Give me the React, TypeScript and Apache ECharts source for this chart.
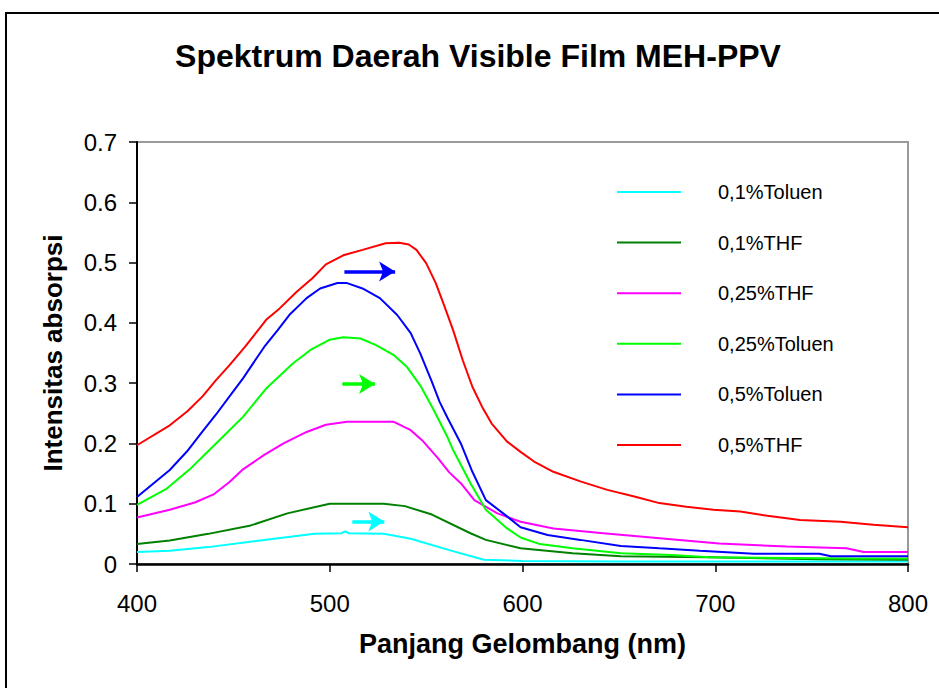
import React, { useEffect, useRef } from "react";
import * as echarts from "echarts";

const FONT = '"Liberation Sans", Arial, Helvetica, sans-serif';

const chartTitle = "Spektrum Daerah Visible Film MEH-PPV";
const xAxisTitle = "Panjang Gelombang (nm)";
const yAxisTitle = "Intensitas absorpsi";

const seriesNames = ["0,1%Toluen", "0,1%THF", "0,25%THF", "0,25%Toluen", "0,5%Toluen", "0,5%THF"];
const seriesColors = ["#00FFFF", "#008000", "#FF00FF", "#00FF00", "#0000FF", "#FF0000"];

const toluen01: number[][] = [
  [400, 0.020], [417, 0.022], [437, 0.028], [464, 0.039], [492, 0.050], [506, 0.051], [508, 0.054],
  [510, 0.051], [528, 0.050], [542, 0.042], [562, 0.023], [580, 0.007], [600, 0.005], [650, 0.004],
  [700, 0.004], [800, 0.004],
];
const thf01: number[][] = [
  [400, 0.033], [417, 0.039], [437, 0.050], [459, 0.064], [478, 0.084], [500, 0.100], [528, 0.100],
  [539, 0.096], [553, 0.082], [573, 0.051], [581, 0.040], [599, 0.026], [626, 0.018], [651, 0.013],
  [696, 0.011], [754, 0.008], [800, 0.007],
];
const thf025: number[][] = [
  [400, 0.077], [417, 0.090], [430, 0.102], [440, 0.116], [448, 0.136], [455, 0.157], [466, 0.181],
  [476, 0.200], [488, 0.219], [498, 0.231], [509, 0.236], [533, 0.236], [542, 0.222], [548, 0.205],
  [556, 0.176], [562, 0.152], [568, 0.134], [575, 0.106], [587, 0.084], [599, 0.070], [616, 0.059],
  [642, 0.051], [677, 0.041], [702, 0.034], [737, 0.029], [768, 0.026], [777, 0.020], [800, 0.020],
];
const toluen025: number[][] = [
  [400, 0.098], [415, 0.124], [428, 0.159], [441, 0.200], [455, 0.244], [467, 0.291], [481, 0.333],
  [490, 0.355], [500, 0.372], [507, 0.376], [516, 0.374], [524, 0.363], [533, 0.347], [540, 0.327],
  [547, 0.296], [554, 0.255], [561, 0.211], [564, 0.189], [573, 0.134], [581, 0.090], [592, 0.059],
  [599, 0.044], [609, 0.033], [626, 0.026], [651, 0.018], [677, 0.015], [697, 0.011], [772, 0.009],
  [800, 0.009],
];
const toluen05: number[][] = [
  [400, 0.111], [417, 0.156], [426, 0.187], [433, 0.216], [441, 0.248], [448, 0.278], [455, 0.308],
  [466, 0.360], [473, 0.388], [479, 0.413], [488, 0.441], [495, 0.457], [504, 0.466], [509, 0.466],
  [517, 0.457], [526, 0.441], [535, 0.413], [542, 0.383], [547, 0.349], [553, 0.302], [557, 0.269],
  [561, 0.243], [568, 0.200], [574, 0.153], [581, 0.106], [592, 0.079], [599, 0.061], [613, 0.048],
  [630, 0.040], [651, 0.030], [671, 0.026], [692, 0.022], [720, 0.017], [754, 0.017], [760, 0.013],
  [800, 0.013],
];
const thf05: number[][] = [
  [400, 0.197], [417, 0.230], [426, 0.253], [434, 0.278], [441, 0.305], [448, 0.330], [456, 0.360],
  [467, 0.405], [474, 0.424], [483, 0.452], [491, 0.474], [498, 0.497], [507, 0.512], [517, 0.521],
  [529, 0.532], [536, 0.533], [541, 0.530], [545, 0.521], [550, 0.499], [555, 0.466], [559, 0.432],
  [564, 0.388], [569, 0.338], [574, 0.294], [579, 0.261], [584, 0.233], [592, 0.203], [599, 0.186],
  [606, 0.170], [616, 0.153], [630, 0.137], [644, 0.123], [658, 0.112], [671, 0.101], [685, 0.095],
  [699, 0.090], [713, 0.087], [727, 0.080], [744, 0.073], [765, 0.070], [782, 0.065], [800, 0.061],
];

const seriesData = [toluen01, thf01, thf025, toluen025, toluen05, thf05];

// annotation arrows: [start, end] in data coordinates, per series index
const blueArrow = [[507.6, 0.485], [533.9, 0.485]];
const greenArrow = [[506.5, 0.2985], [523.5, 0.2985]];
const cyanArrow = [[511.7, 0.0705], [528.3, 0.0705]];
const arrowBySeries: Record<number, number[][]> = { 0: cyanArrow, 3: greenArrow, 4: blueArrow };

const xMin = 400, xMax = 800, xStep = 100;
const yMin = 0, yMax = 0.7, yStep = 0.1;

export default function App() {
  const ref = useRef<HTMLDivElement>(null);
  useEffect(() => {
    if (!ref.current) return;
    const chart = echarts.init(ref.current, undefined, { renderer: "svg" });
    const series = seriesData.map((d, i) => {
      const s: any = {
        name: seriesNames[i],
        type: "line",
        data: d,
        symbol: "none",
        showSymbol: false,
        lineStyle: { color: seriesColors[i], width: 2 },
        itemStyle: { color: seriesColors[i] },
        z: 2 + i,
      };
      const a = arrowBySeries[i];
      if (a) {
        s.markLine = {
          silent: true,
          symbol: ["none", "arrow"],
          symbolSize: [15, 16],
          label: { show: false },
          lineStyle: { color: seriesColors[i], width: 3.5, type: "solid" },
          data: [[{ coord: a[0] }, { coord: a[1] }]],
        };
      }
      return s;
    });
    chart.setOption({
      animation: false,
      backgroundColor: "#ffffff",
      textStyle: { fontFamily: FONT },
      grid: {
        left: 137,
        right: 31,
        top: 142,
        bottom: 124,
        show: true,
        borderColor: "#9a9a9a",
        borderWidth: 2,
        backgroundColor: "transparent",
      },
      graphic: [
        {
          type: "rect",
          shape: { x: 6, y: 13, width: 1200, height: 1000 },
          style: { fill: "none", stroke: "#000", lineWidth: 2 },
          silent: true,
          z: -1,
        },
        {
          type: "text",
          x: 478,
          y: 56,
          style: {
            text: chartTitle,
            font: `bold 32px ${FONT}`,
            fill: "#000",
            align: "center",
            verticalAlign: "middle",
            textAlign: "center",
            textVerticalAlign: "middle",
          },
        },
      ],
      legend: {
        orient: "vertical",
        left: 617,
        top: 182,
        padding: 0,
        itemGap: 30.6,
        itemWidth: 64,
        itemHeight: 2,
        icon: "rect",
        data: seriesNames,
        textStyle: {
          fontSize: 20,
          fontFamily: FONT,
          color: "#000",
          lineHeight: 20,
          padding: [0, 0, 0, 32],
        },
      },
      xAxis: {
        type: "value",
        min: xMin,
        max: xMax,
        interval: xStep,
        name: xAxisTitle,
        nameLocation: "middle",
        nameGap: 66,
        nameTextStyle: { fontSize: 27, fontWeight: "bold", color: "#000", fontFamily: FONT },
        axisLine: { show: true, onZero: false, lineStyle: { color: "#000", width: 2.5 } },
        axisTick: { show: true, inside: false, length: 8, lineStyle: { color: "#000", width: 1.5 } },
        axisLabel: { fontSize: 24, color: "#000", margin: 27, fontFamily: FONT },
        splitLine: { show: false },
      },
      yAxis: {
        type: "value",
        min: yMin,
        max: yMax,
        interval: yStep,
        name: yAxisTitle,
        nameLocation: "middle",
        nameGap: 71,
        nameTextStyle: { fontSize: 26, fontWeight: "bold", color: "#000", fontFamily: FONT },
        axisLine: { show: true, lineStyle: { color: "#000", width: 2 } },
        axisTick: { show: true, inside: false, length: 8, lineStyle: { color: "#000", width: 1.5 } },
        axisLabel: {
          fontSize: 24,
          color: "#000",
          margin: 20,
          fontFamily: FONT,
          formatter: (v: number) => (v === 0 ? "0" : v.toFixed(1)),
        },
        splitLine: { show: false },
      },
      series,
    });
    return () => chart.dispose();
  }, []);
  return (
    <div
      ref={ref}
      style={{ position: "absolute", left: 0, top: 0, width: 939, height: 688, background: "#fff" }}
    />
  );
}
